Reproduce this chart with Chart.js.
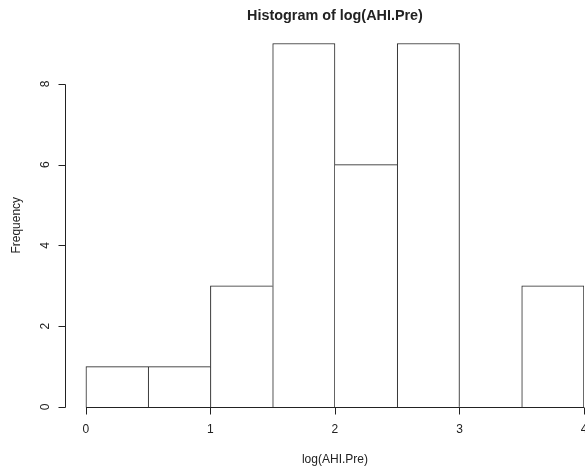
<!DOCTYPE html>
<html>
<head>
<meta charset="utf-8">
<script src="https://cdn.jsdelivr.net/npm/chart.js@4/dist/chart.umd.min.js"></script>
<style>
  html, body { margin: 0; padding: 0; background: #fff; overflow: hidden; }
  #wrap { width: 585px; height: 468px; }
</style>
</head>
<body>
<div id="wrap"><canvas id="c" width="585" height="468"></canvas></div>
<script>
// Histogram bins of log(AHI.Pre)
const binEdges = [0, 0.5, 1, 1.5, 2, 2.5, 3, 3.5, 4];
const counts = [1, 1, 3, 9, 6, 9, 0, 3];
const xTicks = [0, 1, 2, 3, 4];
const yTicks = [0, 2, 4, 6, 8];

const chartTitle = 'Histogram of log(AHI.Pre)';
const xTitle = 'log(AHI.Pre)';
const yTitle = 'Frequency';

const INK = '#222';
const FONT = '"Liberation Sans", Arial, Helvetica, sans-serif';

const points = counts.map((c, i) => ({ x: (binEdges[i] + binEdges[i + 1]) / 2, y: c }));

// One shared 1px edge between neighbouring bars: the taller bar owns it
function edges(ctx) {
  const i = ctx.dataIndex;
  const v = counts[i];
  const prev = i > 0 ? counts[i - 1] : -1;
  const next = i < counts.length - 1 ? counts[i + 1] : -1;
  return {
    top: v > 0 ? 1 : 0,
    bottom: 0,
    left: v > 0 && prev <= v ? 1 : 0,
    right: v > 0 && next < v ? 1 : 0
  };
}

// Base-graphics style axes, titles and tick labels
const rAxes = {
  id: 'rAxes',
  afterDraw(chart) {
    const { ctx, scales: { x, y } } = chart;
    const x0 = x.getPixelForValue(xTicks[0]);
    const x1 = x.getPixelForValue(xTicks[xTicks.length - 1]);
    const yBase = Math.round(y.getPixelForValue(0)) + 0.5;
    const axX = Math.round(x.left) - 0.5;
    const y0 = y.getPixelForValue(yTicks[0]);
    const y1 = y.getPixelForValue(yTicks[yTicks.length - 1]);
    const tick = 7;

    ctx.save();
    ctx.strokeStyle = INK;
    ctx.lineWidth = 1;

    // x axis
    ctx.beginPath();
    ctx.moveTo(x0, yBase);
    ctx.lineTo(x1, yBase);
    xTicks.forEach(v => {
      const p = Math.round(x.getPixelForValue(v)) + 0.5;
      ctx.moveTo(p, yBase);
      ctx.lineTo(p, yBase + tick);
    });
    ctx.stroke();

    // y axis
    ctx.beginPath();
    ctx.moveTo(axX, Math.round(y0) + 0.5);
    ctx.lineTo(axX, Math.round(y1) + 0.5);
    yTicks.forEach(v => {
      const p = Math.round(y.getPixelForValue(v)) + 0.5;
      ctx.moveTo(axX, p);
      ctx.lineTo(axX - tick, p);
    });
    ctx.stroke();

    ctx.fillStyle = INK;
    ctx.font = '12px ' + FONT;
    ctx.textAlign = 'center';
    ctx.textBaseline = 'middle';
    xTicks.forEach(v => {
      ctx.fillText(String(v), x.getPixelForValue(v), yBase + 22);
    });
    yTicks.forEach(v => {
      ctx.save();
      ctx.translate(axX - 20, y.getPixelForValue(v));
      ctx.rotate(-Math.PI / 2);
      ctx.fillText(String(v), 0, 0);
      ctx.restore();
    });

    // axis titles
    const cx = (x.left + x.getPixelForValue(4.16)) / 2;
    const cy = (y.top + y.getPixelForValue(-0.36)) / 2;
    ctx.fillText(xTitle, cx, yBase + 52);
    ctx.save();
    ctx.translate(16.5, cy);
    ctx.rotate(-Math.PI / 2);
    ctx.fillText(yTitle, 0, 0);
    ctx.restore();

    // main title
    ctx.font = 'bold 14.4px ' + FONT;
    ctx.fillText(chartTitle, cx, 16);
    ctx.restore();
  }
};

new Chart(document.getElementById('c'), {
  type: 'bar',
  data: {
    datasets: [{
      data: points,
      backgroundColor: '#ffffff',
      borderColor: INK,
      borderWidth: edges,
      borderSkipped: false,
      barPercentage: 1,
      categoryPercentage: 1,
      grouped: false
    }]
  },
  options: {
    responsive: false,
    animation: false,
    events: [],
    layout: { padding: { left: 66, right: 1, top: 29, bottom: 61 } },
    plugins: { legend: { display: false }, tooltip: { enabled: false }, title: { display: false } },
    scales: {
      x: { type: 'linear', min: -0.16, max: 4, offset: false, display: false },
      y: { type: 'linear', min: 0, max: 9.36, display: false }
    }
  },
  plugins: [rAxes]
});
</script>
</body>
</html>
